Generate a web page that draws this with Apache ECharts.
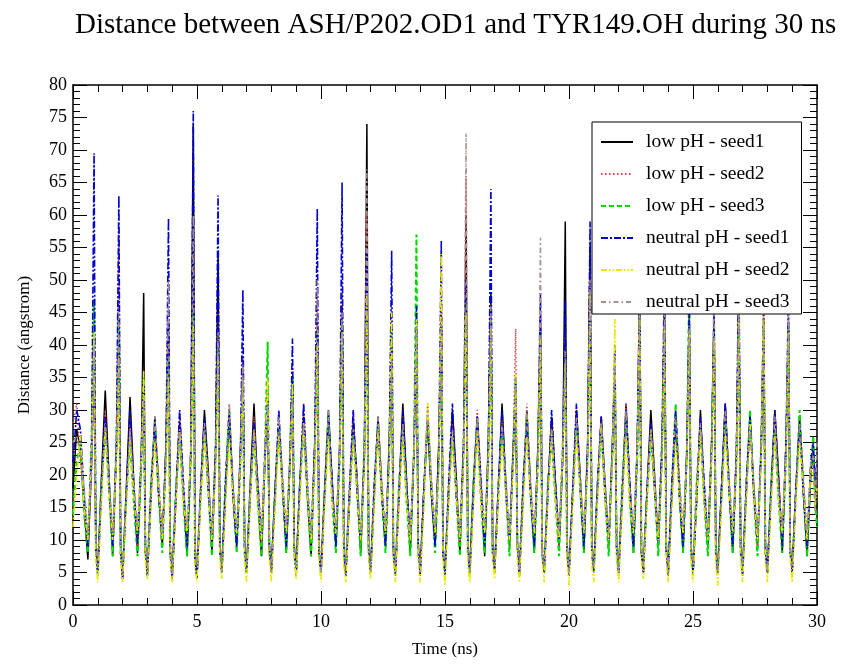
<!DOCTYPE html>
<html>
<head>
<meta charset="utf-8">
<script src="https://cdn.jsdelivr.net/npm/echarts@6/dist/echarts.min.js"></script>
<style>html,body{margin:0;padding:0;background:#fff}#c{width:842px;height:664px}</style>
</head>
<body>
<div id="c"></div>
<script>
// Sampling offsets inside each 1-ns cycle (trough, rise, peak, fall, trough, rise, spike, drop)
const cycleOffsets = [0, 0.15, 0.3, 0.45, 0.6, 0.75, 0.85, 0.92];
const xTicks = [0, 5, 10, 15, 20, 25, 30];
const yTicks = [0, 5, 10, 15, 20, 25, 30, 35, 40, 45, 50, 55, 60, 65, 70, 75, 80];
const seriesNames = ['low pH - seed1', 'low pH - seed2', 'low pH - seed3', 'neutral pH - seed1', 'neutral pH - seed2', 'neutral pH - seed3'];

const lowSeed1 = [
18,27,24,15,7,22,38,10, 5,20,33,20,7.5,24,40,9, 4,18,32,19,8,22,48,8, 4.5,17,29,18,9,25,44,8,
4,16,28,17,7.5,24,74,7, 4,18,30,21,8,23,54,9, 5,17,29,18,9,24,36,9, 5,19,31,17,7.5,23,33,8,
5.5,18,27,19,8,22,35,9, 6,19,29,17,7.5,25,44,8, 5,18,30,19,9,24,46,9, 4.5,16,28,20,8,23,74,8,
5,17,29,18,9,25,40,8, 5,18,31,19,8,24,42,9, 4.5,18,28,17,9,25,45,8, 5,17,30,20,8,24,60,9,
5.5,19,29,18,7.5,26,48,9, 5,18,31,19,9,24,33,9, 4.5,17,30,18,8,25,44,8, 5,18,29,19,9,23,59,8,
5,17,30,20,8,24,55,9, 5.5,18,29,19,9,25,36,9, 5,17,31,18,8,24,50,8, 5,18,30,20,9,23,46,9,
4.5,17,28,18,8,24,44,9, 5,16,30,17,9,25,44,8, 5,18,31,19,8,23,48,9, 5.5,17,29,18,9,24,44,8,
5,18,30,20,8,25,42.5,9, 5,18,29,18,7.5,20,24,18, 15];

const lowSeed2 = [
28,31,22,16,9,20,36,11, 6,17,30,19,9,23,58,10, 5,16,29,17,8.5,21,33,9, 5,18,27,19,10,22,40,9,
5,17,30,18,9,23,41,10, 5,16,28,20,9,24,45,9, 6,18,31,17,10,22,38,10, 6,17,29,19,9,24,34,9,
5,16,28,17,10,23,33,9, 5,18,31,20,9,22,48,10, 6,17,27,18,10,23,50,9, 5,18,30,17,9,24,60,10,
6,17,28,19,10,22,44,9, 5,16,29,18,9,24,40,10, 5,18,31,19,10,23,46,9, 6,17,28,18,9,24,66,10,
5,18,30,20,10,22,47,9, 6,16,29,17,9,25,42.5,10, 5,17,31,19,10,23,46,9, 5,18,28,18,9,22,40,10,
6,17,30,20,10,24,52,9, 5,16,29,17,9,23,35,10, 6,18,31,19,10,22,47,9, 5,17,28,18,9,24,44,10,
5,18,30,20,10,23,45,9, 6,17,29,17,9,22,48,10, 5,16,31,19,10,24,46,9, 5,18,28,18,9,23,48,10,
6,17,30,20,10,22,44,9, 5,17,28,19,9,22,22,17, 20];

const lowSeed3 = [
14,22,25,14,8,26,47,9, 5,19,27,18,7.5,25,44,8, 5,17,25,16,7.5,21,35,8, 5.5,19,28,17,8,23,38,9,
5,18,26,16,7.5,22,45,8, 6,17,27,18,7.5,24,40,9, 5,19,30,17,8,22,34,8, 5,18,26,16,7.5,25,40.5,8,
5.5,17,28,18,8,23,36,9, 5,19,27,17,7.5,24,42,8, 5,18,29,16,8,22,44,8, 6,17,26,18,7.5,25,45,9,
5,18,28,17,8,23,42,8, 5,19,27,16,7.5,24,57,8, 5.5,17,29,18,8,22,43,9, 5,18,26,17,7.5,25,47,8,
5,19,28,16,8,23,44,8, 6,17,27,18,7.5,24,35,9, 5,18,29,17,8,22,42,8, 5,19,26,16,7.5,25,38,8,
5.5,17,28,18,8,23,45,9, 5,18,27,17,7.5,24,37,8, 5,19,29,16,8,22,44,8, 6,17,26,18,7.5,25,42,9,
5,18,31,17,8,23,50,8, 5,19,27,16,7.5,24,43,8, 5.5,17,29,18,8,22,44,9, 5,18,30,17,7.5,25,43,8,
5,19,27,16,8,23,43,8, 6,17,30,18,7.5,21,26,16, 12];

const neutralSeed1 = [
22,30,27,17,9,24,69.5,8, 4.5,18,29,19,9,24,63,8, 4,17,30,18,9.5,23,34,9, 4.5,18,28,17,10,24,59.5,8,
4,17,30,19,9,23,76,7, 4.5,18,29,18,10,24,63,8, 5,19,30,17,9,23,48.5,9, 5,17,28,19,10,24,32,9,
5,18,30,18,9,22,41,8, 4.5,19,31,17,10,25,61,8, 5,17,29,19,9,24,65,8, 4.5,18,30,18,10,23,55,9,
5,19,28,17,9,24,54.5,8, 4.5,17,30,19,10,23,46,9, 5,18,29,18,9,24,56,8, 4.5,19,31,17,10,25,50,8,
5,17,29,19,9,24,64,8, 5,18,30,18,10,23,34,9, 4.5,19,28,17,9,24,48,8, 5,17,30,19,10,23,47,9,
4.5,18,31,18,9,24,59,8, 5,19,29,17,10,23,40,9, 4.5,17,30,19,9,24,49,8, 5,18,28,18,10,25,52,8,
5,19,30,17,9,23,46,9, 4.5,17,29,19,10,24,45,8, 5,18,31,18,9,23,55,8, 4.5,19,29,17,10,24,46,9,
5,17,30,19,9,25,48,8, 5,18,28,17,9,22,25,19, 22];

const neutralSeed2 = [
12,20,26,15,10,23,42,7, 3.5,16,27,18,10,22,38,7, 3.5,15,26,17,11,21,36,7, 4,16,25,18,10,22,35,7,
3.5,15,27,16,11,23,43,6, 3.5,16,26,18,10,21,38,7, 4,15,25,17,11,22,35,7, 3.5,16,27,16,10,23,35,7,
3.5,15,26,18,11,21,34,7, 4,16,28,17,10,22,40,7, 3.5,15,26,16,11,23,42,6, 3.5,16,25,18,10,21,48,7,
4,15,27,17,11,22,45,7, 3.5,16,26,16,10,23,44,7, 3.5,15,31,18,11,21,54,7, 3,16,26,17,10,22,45,6,
3.5,15,27,16,11,23,43,7, 4,16,25,18,10,21,36,7, 3.5,15,26,17,11,22,41,7, 3.5,16,27,16,10,23,37,7,
3,15,26,18,11,21,48,6, 3.5,16,28,17,10,22,44,7, 3.5,15,26,16,11,23,48,7, 4,16,27,18,10,21,43,7,
3.5,15,25,17,11,22,42,7, 3.5,16,27,16,10,23,41,6, 3,15,26,18,11,21,45,7, 3.5,16,28,17,10,22,50,7,
3.5,15,26,16,11,23,42,7, 3.5,16,25,18,10,21,20,15, 18];

const neutralSeed3 = [
25,26,23,18,11,21,40,10, 6,18,28,20,11,24,45,10, 5,17,27,19,12,22,32,9, 6,18,29,20,11,23,50,10,
5,17,27,18,12,24,60,9, 6,19,28,20,11,22,42,10, 5,17,31,19,12,23,37,9, 6,18,27,18,11,24,31,10,
5,17,29,20,12,22,32,9, 6,19,28,19,11,23,50,10, 5,17,30,18,12,24,45,9, 6,18,27,20,11,22,67,10,
5,17,29,19,12,23,38,9, 6,19,28,18,11,24,43,10, 5,17,30,20,12,22,44,9, 6,18,27,19,11,23,72.5,10,
5,17,29,18,12,24,46,9, 6,19,28,20,11,22,35,10, 5,17,30,19,12,23,56.5,9, 6,18,27,18,11,24,39,10,
5,17,29,20,12,22,50,9, 6,19,28,19,11,23,38,10, 5,17,30,18,12,24,45,9, 6,18,27,20,11,22,45,10,
5,17,29,19,12,23,43,9, 6,19,28,18,11,24,50,10, 5,17,30,20,12,22,47,9, 6,18,27,19,11,23,44,10,
5,17,29,18,12,24,45,9, 6,18,28,20,11,22,23,14, 25];

// time grid (ns)
const times = [];
for (let k = 0; k < 30; k++) for (const o of cycleOffsets) times.push(+(k + o).toFixed(2));
times.push(30);

const allValues = [lowSeed1, lowSeed2, lowSeed3, neutralSeed1, neutralSeed2, neutralSeed3];
const styles = [
  {color: '#000000', type: 'solid', width: 1.5},
  {color: '#d84040', type: [1.5, 2.5], width: 1.5},
  {color: '#00d800', type: [5, 3], width: 2},
  {color: '#0000d0', type: [7, 2, 2, 2], width: 1.6},
  {color: '#e8e800', type: [6, 2, 1.5, 2, 1.5, 2], width: 1.6},
  {color: '#a89090', type: [5, 3, 1.5, 3], width: 1.5}
];

const serif = '"Liberation Serif", "Times New Roman", serif';
const chart = echarts.init(document.getElementById('c'), null, {renderer: 'canvas'});

function axisCommon(show) {
  return {
    axisLine: {show: true, onZero: false, lineStyle: {color: '#000', width: 1.5}},
    axisTick: {show: true, inside: true, length: 14, lineStyle: {color: '#000', width: 1}},
    minorTick: {show: true, splitNumber: 5, length: 7, lineStyle: {color: '#000', width: 1}},
    splitLine: {show: false},
    axisLabel: {show: show, color: '#000', fontFamily: serif, fontSize: 18}
  };
}

chart.setOption({
  animation: false,
  backgroundColor: '#fff',
  title: {
    text: 'Distance between ASH/P202.OD1 and TYR149.OH during 30 ns',
    left: 70, top: 6,
    textStyle: {fontFamily: serif, fontSize: 29, fontWeight: 'normal', color: '#000'}
  },
  grid: {left: 73, right: 25, top: 85, bottom: 59},
  legend: {
    show: true,
    orient: 'vertical', left: 592, top: 122,
    padding: [10, 12, 2, 8],
    itemWidth: 32, itemHeight: 14, itemGap: 12,
    backgroundColor: '#fff', borderColor: '#000', borderWidth: 1, borderRadius: 0,
    itemStyle: {opacity: 0},
    lineStyle: {inherit: true},
    textStyle: {fontFamily: serif, fontSize: 19.5, color: '#000', lineHeight: 20, padding: [0, 0, 0, 8]},
    data: seriesNames.slice()
  },
  xAxis: [
    Object.assign({type: 'value', min: 0, max: 30, interval: 5, position: 'bottom',
      name: 'Time (ns)', nameLocation: 'middle', nameGap: 36,
      nameTextStyle: {fontFamily: serif, fontSize: 17, color: '#000'}}, axisCommon(true),
      {axisLabel: {show: true, color: '#000', fontFamily: serif, fontSize: 18, margin: 8}}),
    Object.assign({type: 'value', min: 0, max: 30, interval: 5, position: 'top'}, axisCommon(false))
  ],
  yAxis: [
    Object.assign({type: 'value', min: 0, max: 80, interval: 5, position: 'left',
      name: 'Distance (angstrom)', nameLocation: 'middle', nameGap: 40,
      nameTextStyle: {fontFamily: serif, fontSize: 17, color: '#000'}}, axisCommon(true),
      {axisLabel: {show: true, color: '#000', fontFamily: serif, fontSize: 18, margin: 6}}),
    Object.assign({type: 'value', min: 0, max: 80, interval: 5, position: 'right'}, axisCommon(false))
  ],
  series: seriesNames.map((n, i) => ({
    name: n, type: 'line', xAxisIndex: 0, yAxisIndex: 0,
    symbol: 'none', showSymbol: false,
    lineStyle: Object.assign({}, styles[i]),
    itemStyle: {color: styles[i].color},
    data: times.map((t, j) => [t, allValues[i][j]])
  }))
});
</script>
</body>
</html>
